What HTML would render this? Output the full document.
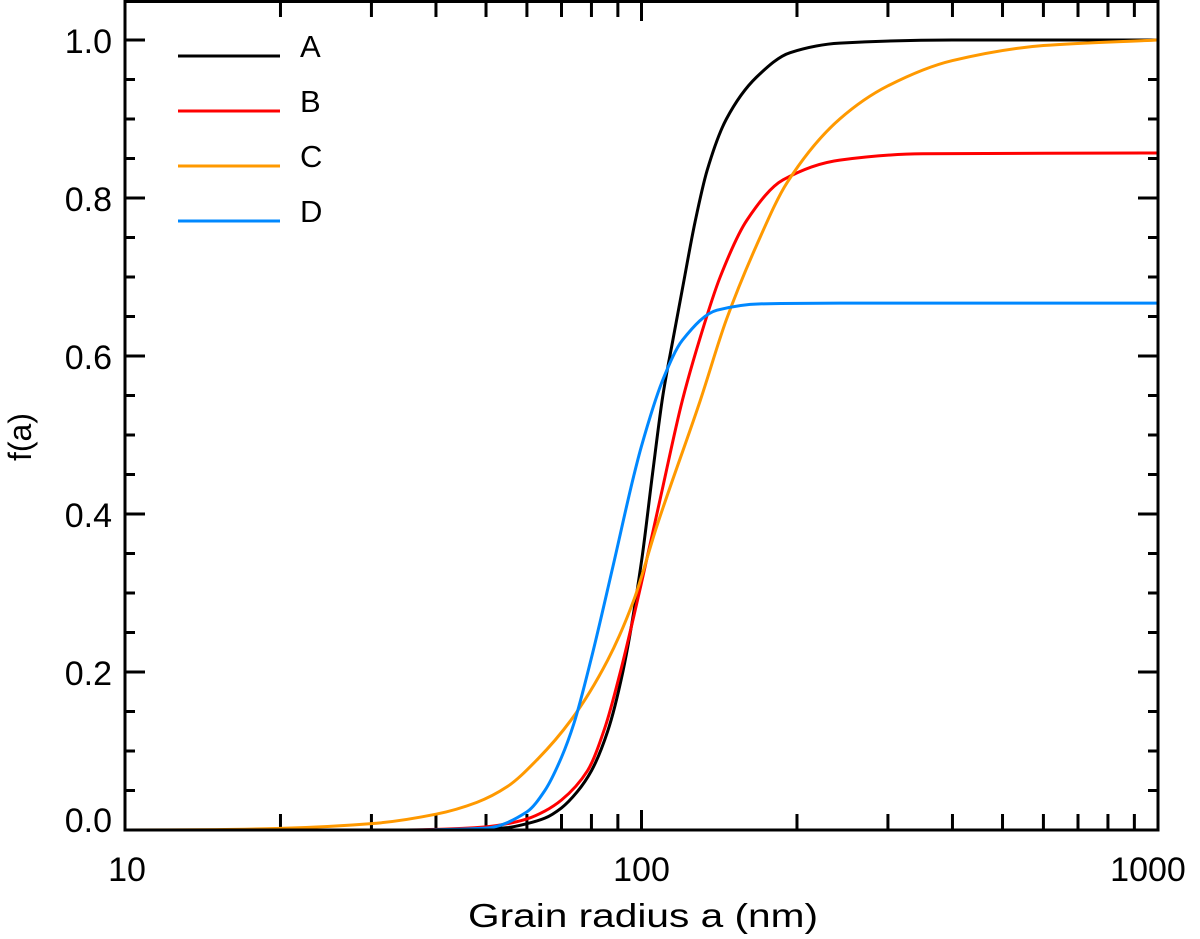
<!DOCTYPE html>
<html><head><meta charset="utf-8"><style>
html,body{margin:0;padding:0;background:#fff;}
svg text{font-family:"Liberation Sans","DejaVu Sans",sans-serif;fill:#000;}
</style></head><body>
<svg id="chart" width="1200" height="934" viewBox="0 0 1200 934" xmlns="http://www.w3.org/2000/svg">
<g id="ticks"></g>
<g id="series"></g>
<rect x="125" y="1.5" width="1033" height="828.5" fill="none" stroke="#000" stroke-width="3"/>
<g id="labels"></g>
<text x="643" y="927" font-size="33" text-anchor="middle" textLength="350" lengthAdjust="spacingAndGlyphs">Grain radius a (nm)</text>
<text transform="translate(31,437) rotate(-90)" font-size="32" text-anchor="middle">f(a)</text>
<g id="legend"></g>
</svg>
<script>
const xTickLabels=["10","100","1000"];
const yTickLabels=["0.0","0.2","0.4","0.6","0.8","1.0"];
const seriesNames=["A","B","C","D"];
const seriesColors=["#000000","#ff0000","#ff9900","#0088ff"];
const xA=[10,45,55,60,65,70,75,80,86,92,100,105,110,115,120,127,134,146,167,194,242,400,1000];
const yA=[0,0,0.003,0.008,0.015,0.028,0.048,0.075,0.125,0.2,0.34,0.45,0.55,0.62,0.685,0.77,0.835,0.9,0.953,0.984,0.996,1.0,1.0];
const xB=[10,35,45,50,55,60,65,70,78.6,85,91,99.6,108.6,120,130,142,160,188,242,350,1000];
const yB=[0,0,0.002,0.004,0.008,0.014,0.024,0.038,0.075,0.13,0.2,0.308,0.418,0.544,0.624,0.7,0.772,0.823,0.848,0.856,0.857];
const xC=[10,15,20,30,40,48,55,63,73,86,96.5,107,130,146,167,191.6,242,300,400,600,1000];
const yC=[0,0.0005,0.002,0.008,0.02,0.035,0.055,0.09,0.139,0.215,0.29,0.384,0.544,0.646,0.74,0.82,0.9,0.942,0.974,0.993,1.0];
const xD=[10,35,50,60,65,70,74,80,88,96.5,100,110,120,140,170,242,1000];
const yD=[0,0,0.0024,0.023,0.05,0.092,0.135,0.218,0.333,0.447,0.486,0.57,0.62,0.658,0.666,0.667,0.667];
const seriesX=[xA,xB,xC,xD], seriesY=[yA,yB,yC,yD];

const X0=125,X1=1158,Y0=830,PX_PER_UNIT=790;
const xs=a=>X0+(X1-X0)/2*Math.log10(a/10);
const ys=v=>Y0-v*PX_PER_UNIT;
const NS="http://www.w3.org/2000/svg";
function mk(tag,attrs,parent){const e=document.createElementNS(NS,tag);for(const k in attrs)e.setAttribute(k,attrs[k]);parent.appendChild(e);return e;}

const tk=document.getElementById('ticks');
for(let i=0;i<=20;i++){const v=i*0.05;const y=ys(v);const L=(i%4===0)?20:10;
 let t=mk('line',{x1:X0,x2:X0+L,y1:y,y2:y,stroke:'#000','stroke-width':3},tk);
 
 
 let t2=mk('line',{x1:X1-L,x2:X1,y1:y,y2:y,stroke:'#000','stroke-width':3},tk);
 
 }
for(let d=10;d<1000;d*=10){for(let m=1;m<=10;m++){const a=d*m;const x=xs(a);const L=(m===1||m===10)?20:16;
 let t=mk('line',{x1:x,x2:x,y1:Y0,y2:Y0-L,stroke:'#000','stroke-width':3},tk);
 
 
 let t2=mk('line',{x1:x,x2:x,y1:1,y2:1+L,stroke:'#000','stroke-width':3},tk);
 
 }}
const lb=document.getElementById('labels');
yTickLabels.forEach((s,i)=>{const by=i===0?832:ys(i*0.2)+13;const t=mk('text',{x:112,y:by,'font-size':34,'text-anchor':'end'},lb);t.textContent=s;
 
 });
xTickLabels.forEach((s,i)=>{const t=mk('text',{x:xs(Math.pow(10,i+1))+(i===0?2:(i===2?-10:0)),y:881,'font-size':34,'text-anchor':'middle'},lb);t.textContent=s;
 
 });

function pathFor(X,Y){
 const px=X.map(xs),py=Y.map(ys),n=px.length;
 const dx=[],s=[];for(let i=0;i<n-1;i++){dx.push(px[i+1]-px[i]);s.push((py[i+1]-py[i])/dx[i]);}
 const m=new Array(n);m[0]=s[0];m[n-1]=s[n-2];
 for(let i=1;i<n-1;i++){if(s[i-1]*s[i]<=0)m[i]=0;else{const w1=2*dx[i]+dx[i-1],w2=dx[i]+2*dx[i-1];m[i]=(w1+w2)/(w1/s[i-1]+w2/s[i]);}}
 let d='M'+px[0].toFixed(2)+','+py[0].toFixed(2);
 for(let i=0;i<n-1;i++){const h=dx[i];
  d+=' C'+(px[i]+h/3).toFixed(2)+','+(py[i]+m[i]*h/3).toFixed(2)+' '+(px[i+1]-h/3).toFixed(2)+','+(py[i+1]-m[i+1]*h/3).toFixed(2)+' '+px[i+1].toFixed(2)+','+py[i+1].toFixed(2);}
 return d;}
const sg=document.getElementById('series');
seriesNames.forEach((n,i)=>{const e=mk('path',{d:pathFor(seriesX[i],seriesY[i]),fill:'none',stroke:seriesColors[i],'stroke-width':3,'stroke-linejoin':'round'},sg);
 
 });

const lg=document.getElementById('legend');
seriesNames.forEach((n,i)=>{const y=56+i*55;
 const l=mk('line',{x1:178,x2:280,y1:y,y2:y,stroke:seriesColors[i],'stroke-width':3},lg);
 
 
 const t=mk('text',{x:300,y:y+1,'font-size':31},lg);t.textContent=n;
 
 });
</script>
</body></html>
